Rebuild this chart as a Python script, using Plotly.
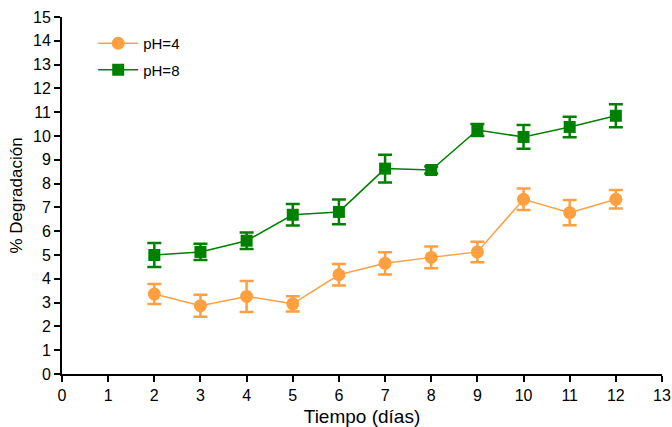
import plotly.graph_objects as go

days = [2, 3, 4, 5, 6, 7, 8, 9, 10, 11, 12]
ph4 = [3.36, 2.87, 3.26, 2.95, 4.17, 4.65, 4.90, 5.13, 7.34, 6.78, 7.34]
ph4_err = [0.42, 0.46, 0.65, 0.32, 0.45, 0.47, 0.46, 0.43, 0.45, 0.53, 0.39]
ph8 = [5.00, 5.13, 5.60, 6.69, 6.81, 8.63, 8.57, 10.25, 9.96, 10.38, 10.85]
ph8_err = [0.50, 0.34, 0.35, 0.45, 0.52, 0.58, 0.15, 0.25, 0.50, 0.43, 0.48]

x_ticks = list(range(0, 14))
y_ticks = list(range(0, 16))

orange = "#FFA040"
green = "#008000"

fig = go.Figure()
fig.add_trace(go.Scatter(
    x=days, y=ph4, name="pH=4", mode="lines+markers",
    line=dict(color=orange, width=1.5),
    marker=dict(symbol="circle", size=13, color=orange),
    error_y=dict(type="data", array=ph4_err, color=orange, thickness=2.5, width=7),
    legendgroup="a",
))
fig.add_trace(go.Scatter(
    x=days, y=ph8, name="pH=8", mode="lines+markers",
    line=dict(color=green, width=1.5),
    marker=dict(symbol="square", size=12, color=green),
    error_y=dict(type="data", array=ph8_err, color=green, thickness=2.5, width=7),
    legendgroup="b",
))

axis_common = dict(
    showline=True, linecolor="black", linewidth=2,
    ticks="outside", ticklen=6, tickwidth=1.5, tickcolor="black",
    showgrid=False, zeroline=False, mirror=False, automargin=False,
    tickfont=dict(family="Liberation Sans, Arial", size=16, color="black"),
)

fig.update_layout(
    width=672, height=427,
    margin=dict(l=62, r=10, t=17, b=53),
    plot_bgcolor="white", paper_bgcolor="white",
    font=dict(family="Liberation Sans, Arial", size=15, color="black"),
    xaxis=dict(range=[0, 13], tickvals=x_ticks,
               title=dict(text="Tiempo (días)", font=dict(size=19), standoff=6),
               **axis_common),
    yaxis=dict(range=[0, 15], tickvals=y_ticks,
               title=dict(text="% Degradación", font=dict(size=17), standoff=6),
               **axis_common),
    legend=dict(x=0.052, y=0.972, xanchor="left", yanchor="top",
                bgcolor="rgba(0,0,0,0)", font=dict(size=15),
                tracegroupgap=4, itemwidth=40),
    showlegend=True,
)

fig.write_html("out.html", config={"displayModeBar": False},
               post_script="document.body.style.margin='0';")
